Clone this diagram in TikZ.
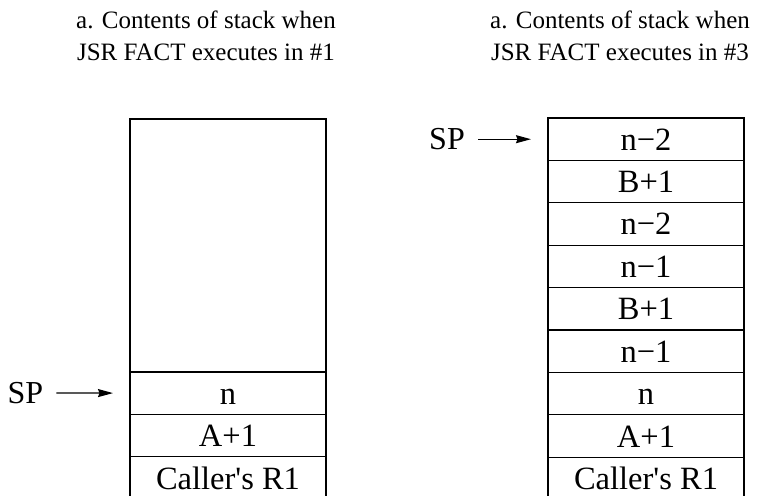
\documentclass[tikz,border=0pt]{standalone}
\usepackage{fontspec}
\setmainfont{Liberation Serif}
\usetikzlibrary{arrows.meta,positioning}
\tikzset{cell/.style={draw,line width=1.2pt,minimum width=196pt,minimum height=42.4pt,inner sep=0pt,outer sep=0pt,font=\fontsize{32.5}{36}\selectfont,text height=25pt,text depth=3pt},
ptrlabel/.style={inner sep=0pt,font=\fontsize{32}{36}\selectfont},
ptr/.style={line width=1.2pt,-{Stealth[length=15pt,width=8pt,inset=1.5pt]},shorten <=13pt,shorten >=17pt},
caption/.style={align=center,font=\fontsize{25}{31.5}\selectfont}}
\begin{document}
\begin{tikzpicture}[x=1pt,y=1pt]
\useasboundingbox (0,0) rectangle (762,495);
\clip (0,0) rectangle (762,495);
% stack at the first call
\node[caption] (capl) at (206,459) {a. Contents of stack when\\JSR FACT executes in \#1};
\node[cell,minimum height=253pt] (ltop) at (228,249.5) {};
\node[cell,below=0pt of ltop] (ln) {n};
\node[cell,below=0pt of ln] (la) {A+1};
\node[cell,below=0pt of la] (lr) {Caller\textquotesingle s R1};
\node[ptrlabel] (lsp) at (25.5,102) {SP};
\draw[ptr] (lsp) -- (ln);
% stack at the third call
\node[caption] (capr) at (620,459) {a. Contents of stack when\\JSR FACT executes in \#3};
\node[cell] (r1) at (646,355.8) {n−2};
\node[cell,below=0pt of r1] (r2) {B+1};
\node[cell,below=0pt of r2] (r3) {n−2};
\node[cell,below=0pt of r3] (r4) {n−1};
\node[cell,below=0pt of r4] (r5) {B+1};
\node[cell,below=0pt of r5] (r6) {n−1};
\node[cell,below=0pt of r6] (r7) {n};
\node[cell,below=0pt of r7] (r8) {A+1};
\node[cell,below=0pt of r8] (r9) {Caller\textquotesingle s R1};
\node[ptrlabel] (rsp) at (447,355.8) {SP};
\draw[ptr] (rsp) -- (r1);
\end{tikzpicture}
\end{document}
